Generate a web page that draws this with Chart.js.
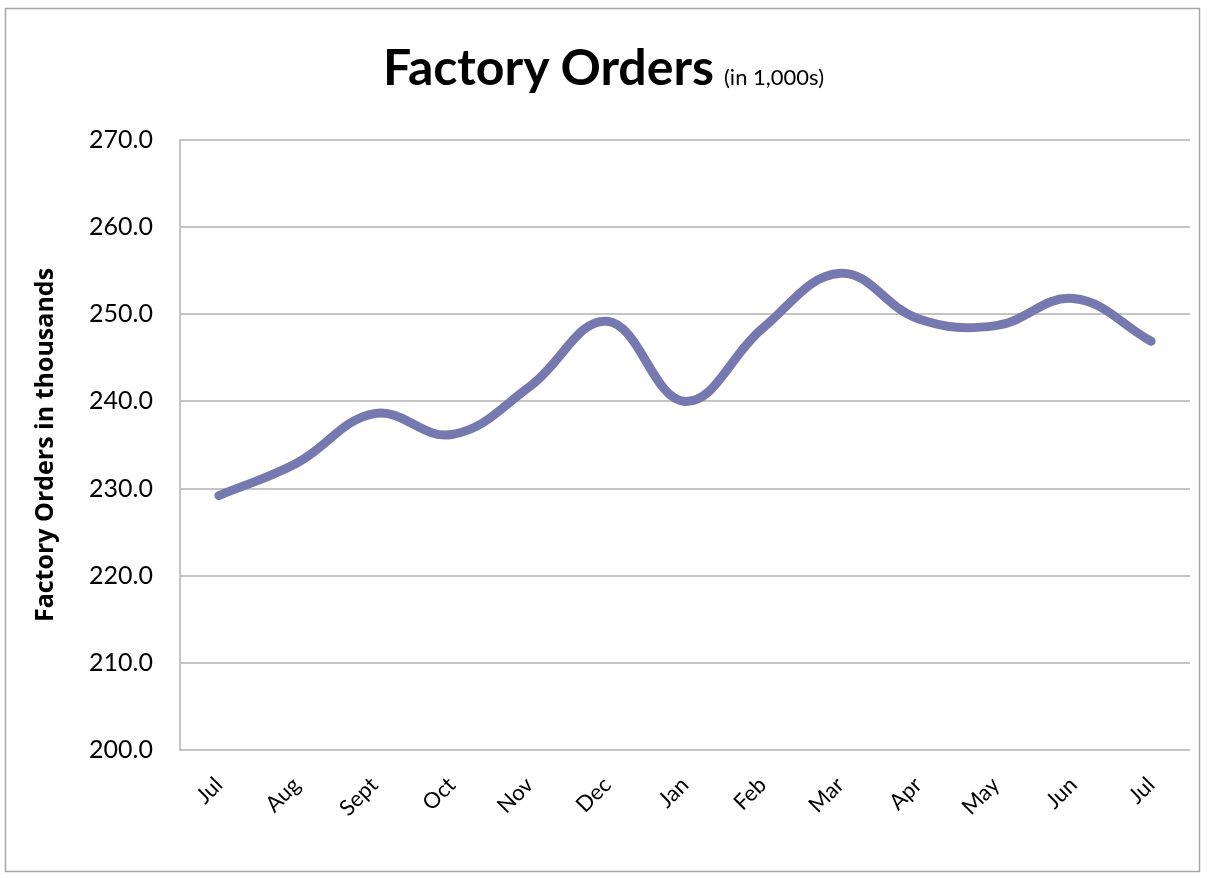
<!DOCTYPE html>
<html>
<head>
<meta charset="utf-8">
<script src="https://cdn.jsdelivr.net/npm/chart.js@4.4.1/dist/chart.umd.min.js"></script>
<style>
  body { margin: 0; background: #fff; }
  #wrap { position: relative; width: 1207px; height: 878px; }
  #title { position: absolute; left: 0; width: 1207px; top: 36px; text-align: center;
           font-family: Lato, "Open Sans", sans-serif; white-space: nowrap; color: #000; }
  #title .main { font-size: 50px; font-weight: bold; }
  #title .sub { font-size: 22px; margin-left: 10px; }
</style>
</head>
<body>
<div id="wrap">
  <canvas id="lineChart" width="1207" height="878"></canvas>
  <div id="title"><span class="main">Factory Orders</span><span class="sub">(in 1,000s)</span></div>
</div>
<script>
// months on the x axis
var months = ["Jul", "Aug", "Sept", "Oct", "Nov", "Dec", "Jan", "Feb", "Mar", "Apr", "May", "Jun", "Jul"];
// factory orders, in thousands
var orders = [229.2, 232.9, 238.6, 236.2, 241.7, 249.2, 240.0, 248.4, 254.7, 249.5, 248.7, 251.8, 246.9];
// y axis range
var yMin = 200, yMax = 270, yStep = 10;

// grey frame round the whole chart
var frame = {
    id: 'frame',
    beforeDraw: function (chart) {
        var ctx = chart.ctx;
        ctx.save();
        ctx.fillStyle = '#fff';
        ctx.fillRect(0, 0, chart.width, chart.height);
        ctx.strokeStyle = '#a6a6a6';
        ctx.lineWidth = 1.5;
        ctx.strokeRect(5.5, 8.5, 1194, 863);
        ctx.restore();
    }
};

var ctxL = document.getElementById("lineChart").getContext('2d');
var myLineChart = new Chart(ctxL, {
    type: 'line',
    data: {
        labels: months,
        datasets: [{
            data: orders,
            borderColor: "#7679b0",
            borderWidth: 9,
            borderCapStyle: 'round',
            tension: 0.4,
            pointRadius: 0,
            fill: false
        }]
    },
    options: {
        responsive: false,
        animation: false,
        devicePixelRatio: 1,
        layout: { padding: { left: 30, right: 17, top: 140, bottom: 0 } },
        plugins: { legend: { display: false }, tooltip: { enabled: false } },
        scales: {
            x: {
                offset: true,
                grid: { display: false },
                border: { display: false },
                ticks: {
                    minRotation: 45, maxRotation: 45, padding: 14,
                    color: '#000',
                    font: { family: 'Lato', size: 22 }
                },
                afterFit: function (scale) { scale.height = 878 - 750; }
            },
            y: {
                min: yMin, max: yMax,
                grid: { color: '#c4c4c4', lineWidth: 2, drawTicks: false },
                border: { display: true, color: '#c4c4c4', width: 2 },
                ticks: {
                    stepSize: yStep, padding: 27, color: '#000',
                    font: { family: 'Lato', size: 25 },
                    callback: function (v) { return v.toFixed(1); }
                },
                title: {
                    display: true,
                    text: 'Factory Orders in thousands',
                    color: '#000',
                    font: { family: 'Open Sans', size: 25, weight: 'bold' },
                    padding: { top: 1, bottom: 0 }
                },
                afterFit: function (scale) { scale.width = 180 - 30; }
            }
        }
    },
    plugins: [frame]
});
</script>
</body>
</html>
